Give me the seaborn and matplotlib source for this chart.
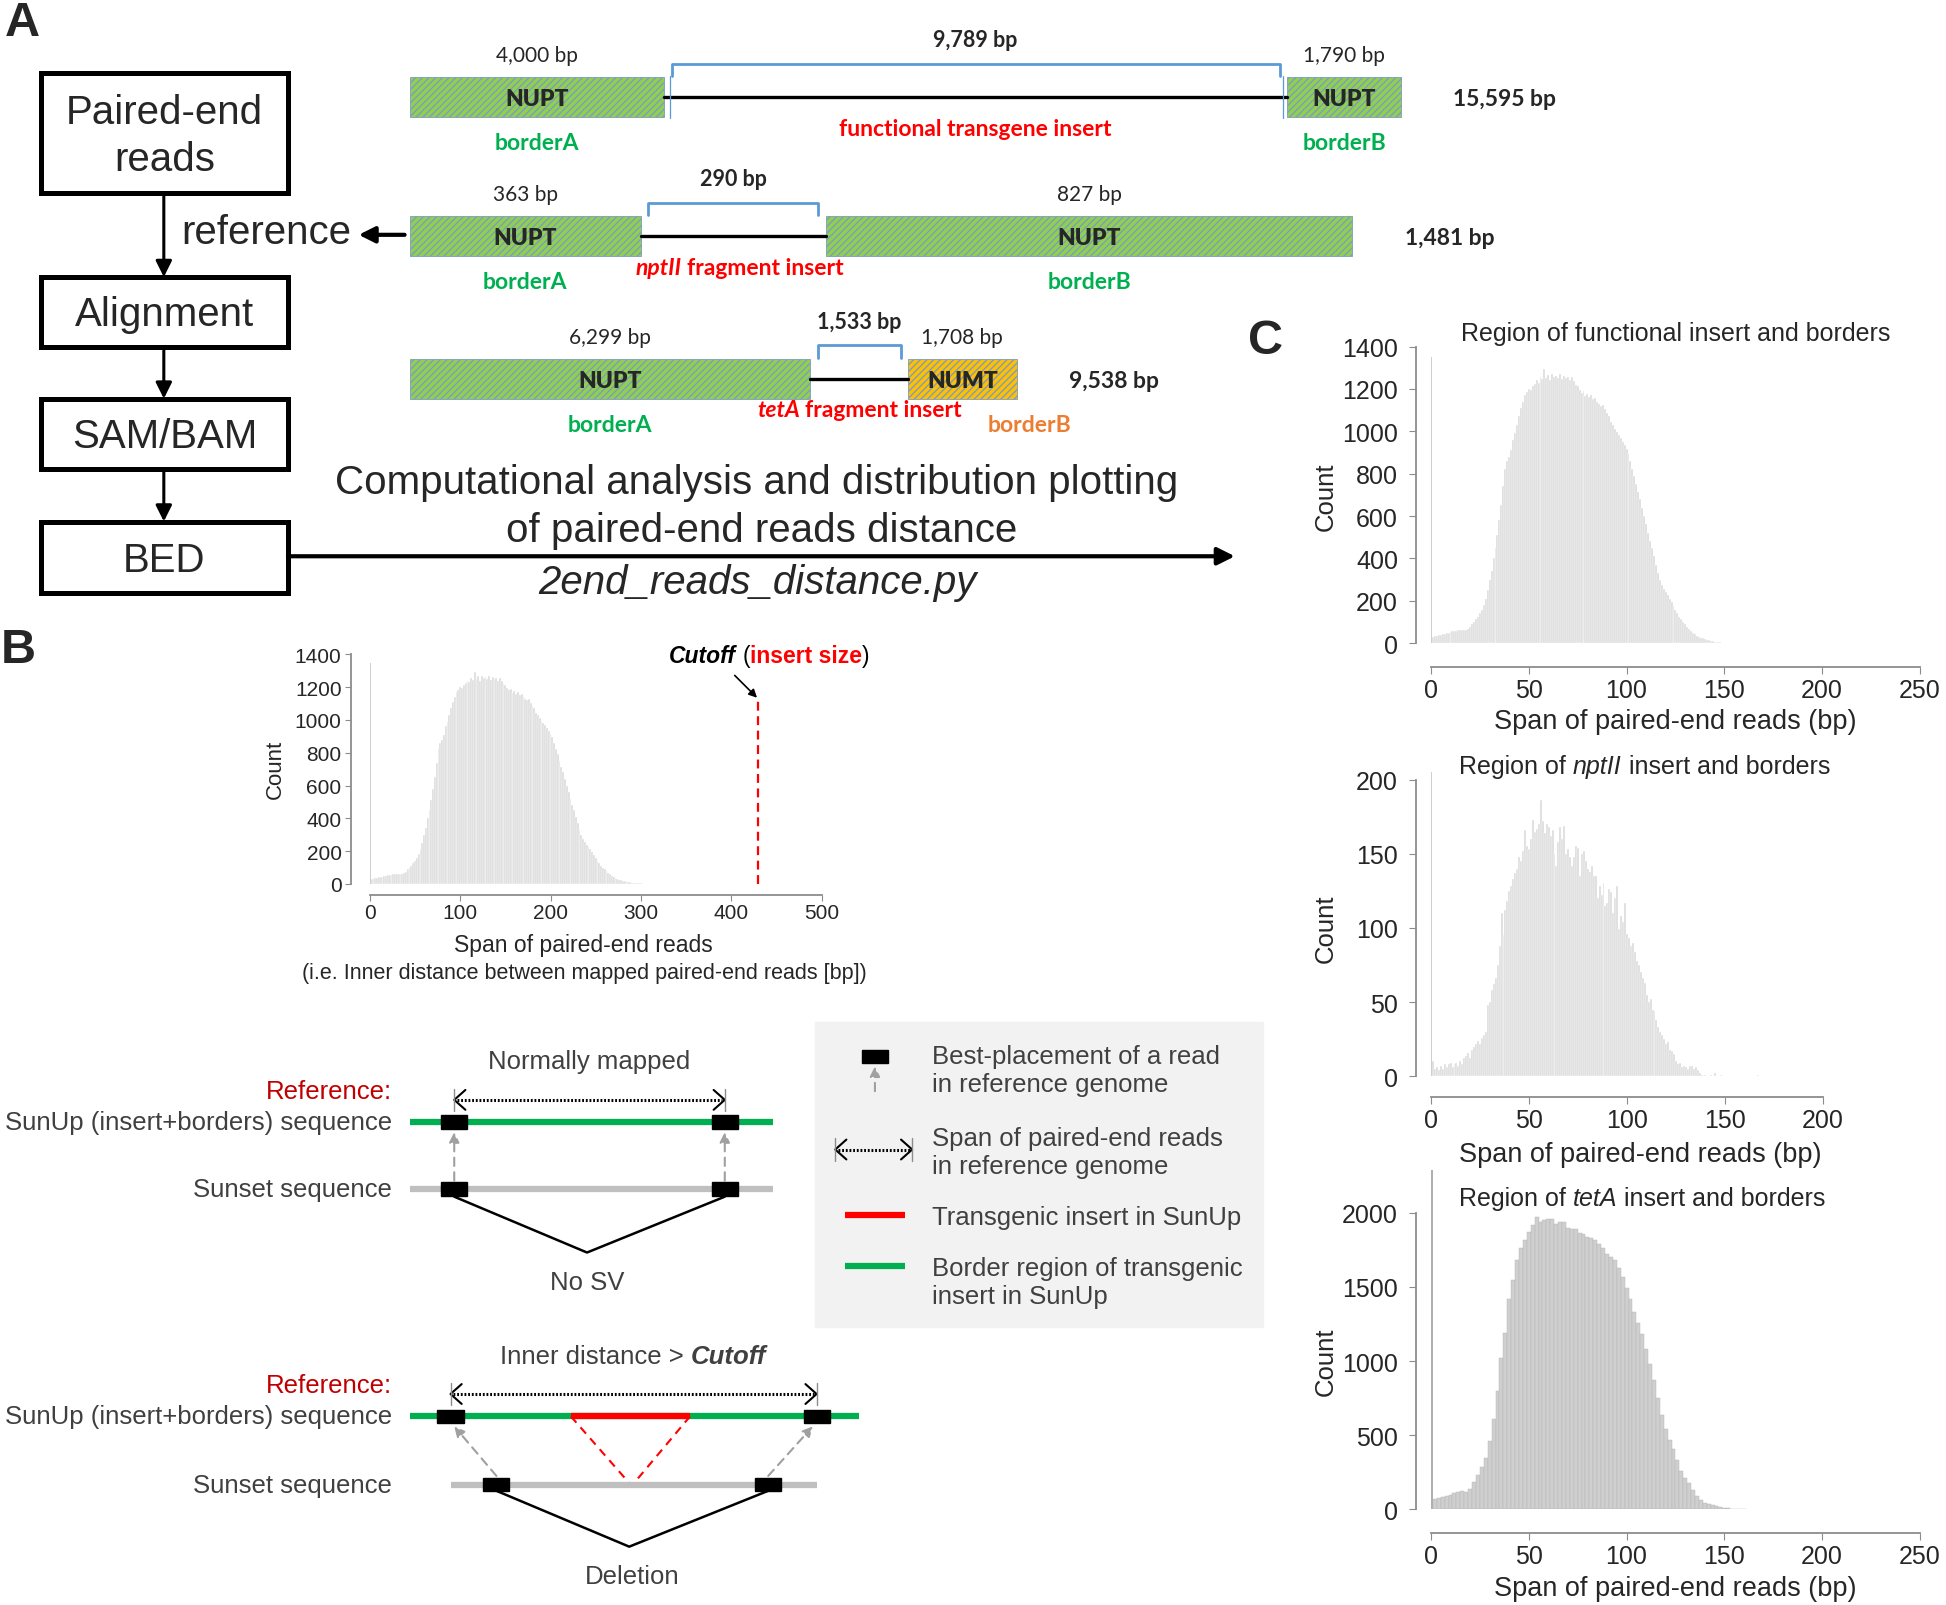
import numpy as np
import pandas as pd
import matplotlib
matplotlib.use("Agg")
import matplotlib.pyplot as plt
from matplotlib.patches import Rectangle
import seaborn as sns

# ---------------- values ----------------
# reads per 1-bp bin, region of functional insert (bin 0 = tall spike)
func_count = [1350,
              30, 32, 35, 38, 40, 42, 45, 48, 50, 52, 55, 57, 58, 60, 60, 62, 63,
              62, 65, 75, 88, 100, 112, 125, 140, 155, 180, 210, 250, 300, 340, 400, 450,
              510, 580, 650, 740, 820, 860, 880, 910, 960, 990, 1030, 1070, 1110, 1140,
              1170, 1185, 1200, 1195, 1215, 1225, 1240, 1230, 1255, 1245, 1295, 1250, 1265,
              1240, 1270, 1255, 1262, 1250, 1268, 1245, 1262, 1250, 1255, 1240, 1258, 1235,
              1220, 1215, 1195, 1180, 1190, 1165, 1175, 1160, 1170, 1150, 1155, 1140, 1130,
              1120, 1125, 1105, 1085, 1070, 1045, 1030, 1010, 995, 980, 970, 950, 935, 915,
              895, 860, 820, 790, 750, 715, 680, 640, 600, 560, 520, 480, 450, 410, 370, 330,
              300, 275, 255, 240, 225, 210, 195, 175, 155, 140, 125, 112, 100, 88, 76, 66, 58,
              50, 42, 35, 30, 26, 22, 18, 15, 13, 11, 9, 7, 6, 5, 4, 3, 3, 2, 2, 2, 1, 1, 1, 1,
              1, 0, 1]

# reads per 1-bp bin, region of nptII insert
nptii_count = [205,
               10, 5, 6, 4, 7, 5, 8, 6, 8, 9, 6, 8, 9, 7, 10, 8,
               12, 14, 16, 12, 18, 20, 22, 24, 22, 26, 28, 30, 48, 50, 58, 62, 66, 75, 88,
               110, 95, 112, 118, 125, 128, 133, 137, 140, 148, 145, 152, 166, 155, 153, 160,
               173, 165, 167, 170, 186, 172, 164, 170, 168, 162, 166, 150, 142, 158, 168, 160,
               169, 150, 153, 148, 142, 148, 155, 154, 135, 150, 152, 145, 140, 138, 142, 135,
               135, 120, 128, 122, 130, 115, 117, 126, 124, 110, 120, 128, 99, 108, 104, 117,
               96, 93, 88, 90, 84, 78, 75, 70, 66, 63, 55, 50, 52, 45, 44, 38, 33, 30, 28, 25,
               22, 23, 18, 17, 15, 10, 8, 9, 6, 7, 6, 5, 7, 7, 5, 6, 4, 2, 1, 0, 1, 0, 0, 1, 0,
               2, 0, 0, 1, 0, 0, 0, 0, 0, 0, 0, 0, 0, 0, 0, 0, 0, 0, 0, 0, 0, 0, 1]

# reads per 2-bp bin, region of tetA insert
teta_count = [2290, 72, 78, 82, 88, 95, 108, 115, 125, 118, 140, 185, 235, 285, 350, 460,
              610, 800, 1020, 1190, 1420, 1550, 1680, 1760, 1820, 1870, 1920, 1970, 1935,
              1950, 1955, 1960, 1925, 1935, 1940, 1900, 1890, 1890, 1865, 1855, 1840, 1830,
              1820, 1790, 1760, 1720, 1700, 1680, 1630, 1565, 1490, 1420, 1330, 1260, 1180,
              1080, 980, 870, 750, 640, 540, 470, 410, 330, 260, 215, 180, 130, 90, 62, 45,
              36, 28, 22, 15, 10, 7, 4, 3, 2, 1]

cutoff_bp = 430
cutoff_top = 1120

# reference constructs: border A, insert, border B (bp)
func_parts = [4000, 9789, 1790]
nptii_parts = [363, 290, 827]
teta_parts = [6299, 1533, 1708]
construct_totals = [15595, 1481, 9538]
border_b_kind = ["NUPT", "NUPT", "NUMT"]
insert_names = [("", "functional transgene insert"), ("nptII", " fragment insert"),
                ("tetA", " fragment insert")]

flow_steps = ["Paired-end\nreads", "Alignment", "SAM/BAM", "BED"]
legend_labels = ["Best-placement of a read\nin reference genome",
                 "Span of paired-end reads\nin reference genome",
                 "Transgenic insert in SunUp",
                 "Border region of transgenic\ninsert in SunUp"]

# ---------------- style ----------------
sns.set_style("ticks")
plt.rcParams["font.family"] = ["Liberation Sans", "DejaVu Sans"]
plt.rcParams["hatch.linewidth"] = 1.0

W, H = 1568, 1294
SC = 1946 / W
GREEN, RED, ORANGE, BLUE = "#00b050", "#ff0000", "#ed7d31", "#5b9bd5"
DIAG = "#404040"
LATO = ["Lato", "DejaVu Sans"]
DFS = 18.5

fig = plt.figure(figsize=(19.46, 16.06), dpi=100)
ax0 = fig.add_axes([0, 0, 1, 1])
ax0.set_xlim(0, W)
ax0.set_ylim(H, 0)
ax0.axis("off")
renderer = fig.canvas.get_renderer()


def advance(s, kw):
    t = ax0.text(0, 0, "|" + s + "|", **kw)
    t0 = ax0.text(0, 0, "||", **kw)
    w = (t.get_window_extent(renderer).width - t0.get_window_extent(renderer).width) / SC
    t.remove()
    t0.remove()
    return w


def rich(x, y, pieces, ha="center", **base):
    # pieces: list of (text, extra props); drawn side by side
    placed = []
    total = 0
    for s, extra in pieces:
        kw = dict(base)
        kw.update(extra)
        core = s.strip(" ")
        sp = advance(" ", kw)
        lead = (len(s) - len(s.lstrip(" "))) * sp
        trail = (len(s) - len(s.rstrip(" "))) * sp
        w = advance(core, kw)
        placed.append((core, kw, total + lead))
        total += lead + w + trail
    start = x - total / 2 if ha == "center" else (x if ha == "left" else x - total)
    for core, kw, off in placed:
        ax0.text(start + off, y, core, ha="left", va="center", **kw)


# ---------------- panel A: flow chart ----------------
boxes = [(33, 60, 232, 156), (33, 224, 232, 280), (33, 322, 232, 379), (33, 421, 232, 479)]
for (x0, y0, x1, y1), lab in zip(boxes, flow_steps):
    ax0.add_patch(Rectangle((x0, y0), x1 - x0, y1 - y0, fill=False, lw=3.6, ec="black"))
    ax0.text((x0 + x1) / 2, (y0 + y1) / 2 + 2, lab, ha="center", va="center",
             fontsize=29, linespacing=1.32)
for a, b in zip(boxes[:-1], boxes[1:]):
    ax0.annotate("", xy=(132, b[1]), xytext=(132, a[3]),
                 arrowprops=dict(arrowstyle="-|>", lw=2.2, color="black",
                                 mutation_scale=24, shrinkA=0, shrinkB=0))
ax0.text(146, 188, "reference", ha="left", va="center", fontsize=29)
ax0.annotate("", xy=(289, 190), xytext=(326, 190),
             arrowprops=dict(arrowstyle="-|>", lw=3, color="black",
                             mutation_scale=24, shrinkA=0, shrinkB=0))
ax0.annotate("", xy=(995, 449), xytext=(232, 449),
             arrowprops=dict(arrowstyle="-|>", lw=3, color="black",
                             mutation_scale=26, shrinkA=0, shrinkB=0))
ax0.text(610, 389, "Computational analysis and distribution plotting", ha="center",
         va="center", fontsize=29)
ax0.text(614, 428, "of paired-end reads distance", ha="center", va="center", fontsize=29)
ax0.text(610, 470, "2end_reads_distance.py", ha="center", va="center", fontsize=29,
         style="italic")

# ---------------- panel A: reference constructs ----------------
row_y = [79, 191, 306]
bp_per_px = [19.5, 1.948, 19.5]
borderb_colors = [GREEN, GREEN, ORANGE]
borderb_shift = [0, 0, 54]
for i, parts in enumerate([func_parts, nptii_parts, teta_parts]):
    yc = row_y[i]
    edges = 330 + np.concatenate([[0], np.cumsum(parts)]) / bp_per_px[i]
    # borders as hatched boxes
    for j, kind in [(0, "NUPT"), (2, border_b_kind[i])]:
        fc = "#ffc000" if kind == "NUMT" else "#8fd14f"
        ax0.add_patch(Rectangle((edges[j], yc - 16), edges[j + 1] - edges[j], 32,
                                facecolor=fc, edgecolor="#7f9cbf", hatch="/////", lw=0.6))
        ax0.text((edges[j] + edges[j + 1]) / 2, yc + 1, kind, ha="center", va="center",
                 fontsize=16.5, weight="heavy", family=LATO)
        ax0.text((edges[j] + edges[j + 1]) / 2, yc - 34, f"{parts[j]:,} bp", ha="center",
                 va="center", fontsize=15, family=LATO, color="#262626")
    ax0.plot([edges[1], edges[2]], [yc, yc], color="black", lw=2.4, zorder=1)
    # insert bracket
    bx0, bx1 = edges[1] + 6, edges[2] - 6
    ax0.plot([bx0, bx0, bx1, bx1], [yc - 17, yc - 27, yc - 27, yc - 17], color=BLUE, lw=2)
    if i == 0:
        for ex in (edges[1] + 5, edges[2] - 3):
            ax0.plot([ex, ex], [yc - 17, yc + 17], color=BLUE, lw=0.9)
    ax0.text((bx0 + bx1) / 2, yc - 46, f"{parts[1]:,} bp", ha="center", va="center",
             fontsize=15.5, weight="bold", family=LATO)
    ax0.text(edges[3] + 42, yc + 1, f"{construct_totals[i]:,} bp", ha="left", va="center",
             fontsize=16.5, weight="bold", family=LATO)
    ital, rest = insert_names[i]
    pieces = ([(ital, dict(style="italic"))] if ital else []) + [(rest, {})]
    rich((edges[1] + edges[2]) / 2 + (5 if i == 1 else 0), yc + 25, pieces, fontsize=16.5,
         weight="bold", color=RED, family=LATO)
    ax0.text((edges[0] + edges[1]) / 2, yc + 37, "borderA", ha="center", va="center",
             fontsize=16.5, weight="bold", color=GREEN, family=LATO)
    ax0.text((edges[2] + edges[3]) / 2 + borderb_shift[i], yc + 37, "borderB", ha="center",
             va="center", fontsize=16.5, weight="bold", color=borderb_colors[i], family=LATO)

for lab, (x, y) in zip("ABC", [(18, 19), (15, 524), (1020, 275)]):
    ax0.text(x, y, lab, ha="center", va="center", fontsize=35, weight="bold")


# ---------------- histograms ----------------
def add_axes(l, t, r, b):
    ax = fig.add_axes([l / W, 1 - b / H, (r - l) / W, (b - t) / H])
    ax.set_facecolor("none")
    return ax


def hist(ax, count, width, face, edge, spike):
    span = np.arange(len(count)) * width
    df = pd.DataFrame({"span": span[1:], "count": count[1:]})
    lo = width / 2
    hi = span[-1] + width / 2
    sns.histplot(data=df, x="span", weights="count", binwidth=width, binrange=(lo, hi),
                 color=face, edgecolor=edge, linewidth=0.3, alpha=1, ax=ax)
    ax.bar(span[0], count[0], width=0.45 * width, align="edge", color=spike,
           linewidth=0, clip_on=False)
    ax.set_xlabel("")
    ax.set_ylabel("")


def style(ax, xmax, xstep, ymax, ystep, size, left_off, bottom_off, ylen, ypad, xlen, xpad):
    ax.set_xlim(0, xmax)
    ax.set_ylim(0, ymax)
    ax.set_xticks(np.arange(0, xmax + 1, xstep))
    ax.set_yticks(np.arange(0, ymax + 1, ystep))
    sns.despine(ax=ax, offset={"left": left_off, "bottom": bottom_off})
    for s in ("left", "bottom"):
        ax.spines[s].set_color("#8c8c8c")
        ax.spines[s].set_linewidth(1.3)
    ax.tick_params(axis="y", labelsize=size, length=ylen, pad=ypad, color="#8c8c8c",
                   labelcolor="#262626")
    ax.tick_params(axis="x", labelsize=size, length=xlen, pad=xpad, color="#8c8c8c",
                   labelcolor="#262626")


# panel B
axB = add_axes(298, 528, 662, 713)
hist(axB, func_count, 2, "#dadada", "white", "#d0d0d0")
style(axB, 500, 100, 1400, 200, 15, 13.4, 8, 4, 3, 4, 2)
axB.plot([cutoff_bp, cutoff_bp], [0, cutoff_top], color=RED, lw=1.6, ls=(0, (4, 2.5)))
ax0.text(222, 620, "Count", rotation=90, ha="center", va="center", fontsize=16, color="#262626")
ax0.text(470, 762, "Span of paired-end reads", ha="center", va="center", fontsize=16.5,
         color="#262626")
ax0.text(471, 784, "(i.e. Inner distance between mapped paired-end reads [bp])", ha="center",
         va="center", fontsize=15.5, color="#262626")
rich(620, 529, [("Cutoff", dict(weight="bold", style="italic")), (" (", {}),
                ("insert size", dict(weight="bold", color=RED)), (")", {})],
     fontsize=16.5, color="black")
ax0.annotate("", xy=(610, 563), xytext=(592, 545),
             arrowprops=dict(arrowstyle="-|>", lw=1.2, color="black", mutation_scale=12,
                             shrinkA=0, shrinkB=0))

# panel C
axC1 = add_axes(1153, 280, 1547, 519)
hist(axC1, func_count, 1, "#dadada", "white", "#cfcfcf")
style(axC1, 250, 50, 1400, 200, 18, 10.7, 17, 5, 8, 5, 3)

axC2 = add_axes(1153, 629, 1469, 868)
hist(axC2, nptii_count, 1, "#dadada", "white", "#cfcfcf")
style(axC2, 200, 50, 200, 50, 18, 10.7, 15, 5, 8, 5, 3)

axC3 = add_axes(1153, 978, 1547, 1217)
hist(axC3, teta_count, 2, "#cfcfcf", "#b5b5b5", "#b0b0b0")
style(axC3, 250, 50, 2000, 500, 18, 10.7, 17, 5, 8, 5, 3)

ax0.text(1350, 269, "Region of functional insert and borders", ha="center", va="center",
         fontsize=18, color="#262626")
rich(1325, 618, [("Region of ", {}), ("nptII", dict(style="italic")),
                 (" insert and borders", {})], fontsize=18, color="#262626")
rich(1323, 966, [("Region of ", {}), ("tetA", dict(style="italic")),
                 (" insert and borders", {})], fontsize=18, color="#262626")
for y in (400, 748, 1097):
    ax0.text(1068, y, "Count", rotation=90, ha="center", va="center", fontsize=18.5,
             color="#262626")
for x, y in [(1350, 582), (1322, 931), (1350, 1280)]:
    ax0.text(x, y, "Span of paired-end reads (bp)", ha="center", va="center", fontsize=19.5,
             color="#262626")


# ---------------- panel B: mapping diagrams ----------------
def read_box(x, y):
    ax0.add_patch(Rectangle((x - 10.5, y - 5.5), 21, 11, color="black", zorder=4))


def span_arrow(x0, x1, y, bar=9):
    ax0.plot([x0 + 2, x1 - 2], [y, y], color="black", lw=2.2, ls=(0, (0.6, 0.6)))
    for x, d in [(x0, 1), (x1, -1)]:
        ax0.plot([x + d * 9, x, x + d * 9], [y - 8, y, y + 8], color="black", lw=1.5)
        ax0.plot([x, x], [y - bar, y + bar], color="#8c8c8c", lw=1)


def map_arrow(x0, y0, x1, y1):
    ax0.annotate("", xy=(x1, y1), xytext=(x0, y0),
                 arrowprops=dict(arrowstyle="-|>", lw=1.5, ls=(0, (4, 3)), color="#a0a0a0",
                                 mutation_scale=15, shrinkA=0, shrinkB=0))


# normally mapped
ax0.text(475, 856, "Normally mapped", ha="center", va="center", fontsize=DFS, color=DIAG)
ax0.text(316, 880, "Reference:", ha="right", va="center", fontsize=DFS, color="#c00000")
ax0.text(316, 905, "SunUp (insert+borders) sequence", ha="right", va="center", fontsize=DFS,
         color=DIAG)
ax0.text(316, 959, "Sunset sequence", ha="right", va="center", fontsize=DFS, color=DIAG)
ax0.plot([330, 623], [905, 905], color=GREEN, lw=4.5, solid_capstyle="butt")
ax0.plot([330, 623], [959, 959], color="#bfbfbf", lw=4.5, solid_capstyle="butt")
span_arrow(366, 584, 887)
for x in (366, 584):
    read_box(x, 905)
    read_box(x, 959)
    map_arrow(x, 952, x, 913)
ax0.plot([366, 473, 584], [965, 1010, 965], color="black", lw=1.8)
ax0.text(473, 1034, "No SV", ha="center", va="center", fontsize=DFS, color=DIAG)

# deletion
rich(510, 1093, [("Inner distance > ", {}), ("Cutoff", dict(weight="bold", style="italic"))],
     fontsize=DFS, color=DIAG)
ax0.text(316, 1117, "Reference:", ha="right", va="center", fontsize=DFS, color="#c00000")
ax0.text(316, 1142, "SunUp (insert+borders) sequence", ha="right", va="center", fontsize=DFS,
         color=DIAG)
ax0.text(316, 1197, "Sunset sequence", ha="right", va="center", fontsize=DFS, color=DIAG)
ax0.plot([330, 692], [1142, 1142], color=GREEN, lw=4.5, solid_capstyle="butt")
ax0.plot([460, 556], [1142, 1142], color=RED, lw=4.5, solid_capstyle="butt")
ax0.plot([460, 509, 556], [1142, 1198, 1142], color=RED, lw=1.5, ls=(0, (4, 3)))
ax0.plot([363, 658], [1197, 1197], color="#bfbfbf", lw=4.5, solid_capstyle="butt")
span_arrow(363, 658, 1124)
read_box(363, 1142)
read_box(658, 1142)
read_box(400, 1197)
read_box(619, 1197)
map_arrow(400, 1190, 366, 1150)
map_arrow(619, 1190, 655, 1150)
ax0.plot([400, 507, 619], [1202, 1247, 1202], color="black", lw=1.8)
ax0.text(509, 1271, "Deletion", ha="center", va="center", fontsize=DFS, color=DIAG)

# legend
ax0.add_patch(Rectangle((657, 824), 361, 246, color="#f2f2f2", zorder=0))
read_box(705, 852)
map_arrow(705, 880, 705, 860)
span_arrow(673, 735, 927)
ax0.plot([681, 729], [980, 980], color=RED, lw=4.5, solid_capstyle="butt")
ax0.plot([681, 729], [1021, 1021], color=GREEN, lw=4.5, solid_capstyle="butt")
for lab, y in zip(legend_labels, [863, 929, 981, 1034]):
    ax0.text(751, y, lab, ha="left", va="center", fontsize=DFS, color=DIAG, linespacing=1.2)

fig.savefig("out.png", dpi=100)
